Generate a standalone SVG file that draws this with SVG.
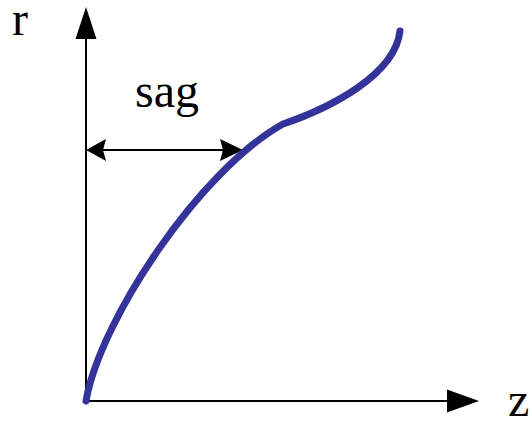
<svg xmlns="http://www.w3.org/2000/svg" width="532" height="424" viewBox="0 0 532 424">
<style>
.axis{stroke:#000;stroke-width:2;fill:none}
.head{fill:#000;stroke:none}
.curve{stroke:#333399;stroke-width:7;fill:none;stroke-linecap:round;stroke-linejoin:round}
.lbl{font-family:"Liberation Serif","Times New Roman",serif;font-size:48px;fill:#000}
</style>
<rect width="532" height="424" fill="#fff"/>
<g id="connectors">
<line class="axis" x1="86" y1="402" x2="86" y2="36"/>
<polygon class="head" points="86,7 75.5,39 96.5,39"/>
<line class="axis" x1="85" y1="401" x2="450" y2="401"/>
<polygon class="head" points="479,401 447,389.5 447,412.5"/>
<line class="axis" x1="102" y1="150" x2="224" y2="150"/>
<path class="head" d="M86,150 L106,139 L103,150 L106,161 Z"/>
<path class="head" d="M243,150 L220,139 L223,150 L220,161 Z"/>
</g>
<g id="curve">
<path class="curve" d="M86,401 C100,320 200,170 283,124 C330,108 395,75 400,31"/>
</g>
<g id="label-r"><text class="lbl" x="12" y="35">r</text></g>
<g id="label-z"><text class="lbl" x="508" y="416">z</text></g>
<g id="label-sag"><text class="lbl" x="135" y="107">sag</text></g>
</svg>
